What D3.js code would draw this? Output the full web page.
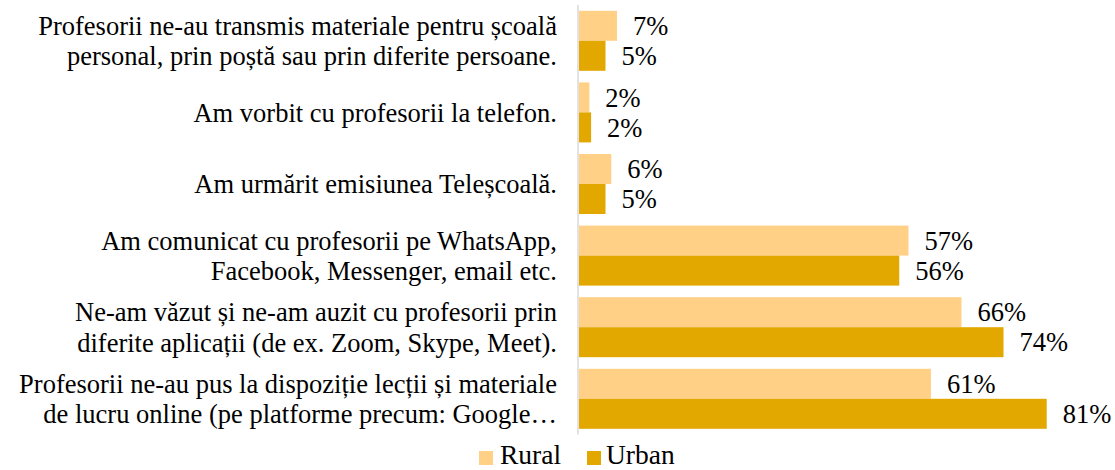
<!DOCTYPE html>
<html><head><meta charset="utf-8">
<script src="https://cdn.jsdelivr.net/npm/d3@7/dist/d3.min.js"></script>
<style>body{margin:0;background:#fff}svg{display:block}</style>
</head><body><svg id="c" width="1115" height="470" font-family="'Liberation Serif', Times, 'Times New Roman', serif"></svg>
<script>
const categories = [
  ["Profesorii ne-au transmis materiale pentru școală", "personal, prin poștă sau prin diferite persoane."],
  ["Am vorbit cu profesorii la telefon."],
  ["Am urmărit emisiunea Teleșcoală."],
  ["Am comunicat cu profesorii pe WhatsApp,", "Facebook, Messenger, email etc."],
  ["Ne-am văzut și ne-am auzit cu profesorii prin", "diferite aplicații (de ex. Zoom, Skype, Meet)."],
  ["Profesorii ne-au pus la dispoziție lecții și materiale", "de lucru online (pe platforme precum: Google…"]
];
const seriesNames = ["Rural", "Urban"];
const rural = [6.6, 1.8, 5.6, 57.2, 66.4, 61.1];
const urban = [4.6, 2.1, 4.6, 55.6, 73.7, 81.2];
const colors = ["#FFD086", "#E2A800"];

const svg = d3.select("#c");
const x = d3.scaleLinear().domain([0, 90]).range([579, 1097.4]);
const y = d3.scaleBand().domain(d3.range(categories.length)).range([5, 434.6]).paddingInner(0.162).paddingOuter(0.081);
const y1 = d3.scaleBand().domain(seriesNames).range([0, y.bandwidth()]);
const series = [rural, urban];

categories.forEach((lines, i) => {
  const g = svg.append("g").attr("transform", `translate(0,${y(i)})`);
  series.forEach((vals, s) => {
    const name = seriesNames[s];
    g.append("rect").attr("x", x(0)).attr("y", y1(name))
      .attr("width", x(vals[i]) - x(0)).attr("height", y1.bandwidth())
      .attr("fill", colors[s]);
    g.append("text").attr("x", x(vals[i]) + 16).attr("y", y1(name) + y1.bandwidth() / 2)
      .attr("dy", "0.35em").attr("font-size", 26.5)
      .text(Math.round(vals[i]) + "%");
  });
  const cy = y(i) + y.bandwidth() / 2;
  const lh = 30.5;
  const t = svg.append("text").attr("text-anchor", "end").attr("font-size", 26.5);
  lines.forEach((ln, k) => {
    t.append("tspan").attr("x", 557).attr("y", cy + (k - (lines.length - 1) / 2) * lh).attr("dy", "0.35em").text(ln);
  });
});

// axis line
svg.append("line").attr("x1", 578).attr("x2", 578).attr("y1", 5).attr("y2", 434.6)
  .attr("stroke", "#d9d9d9").attr("stroke-width", 1.5);

// legend
const leg = [{n: "Rural", sx: 479, tx: 500}, {n: "Urban", sx: 587, tx: 606}];
leg.forEach((d, s) => {
  svg.append("rect").attr("x", d.sx).attr("y", 451).attr("width", 14).attr("height", 14).attr("fill", colors[s]);
  svg.append("text").attr("x", d.tx).attr("y", 464).attr("font-size", 27.5).text(d.n);
});
</script></body></html>
